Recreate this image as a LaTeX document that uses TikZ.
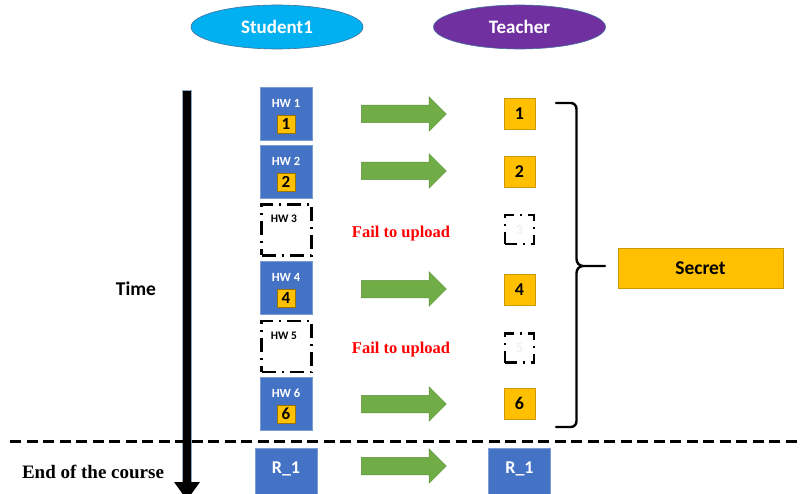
\documentclass[tikz,border=0pt]{standalone}
\usepackage{fontspec}
\setmainfont{Liberation Serif}
\newfontfamily\carlitofont{Carlito}
\usetikzlibrary{shapes.geometric,shapes.arrows,decorations.pathreplacing}
\definecolor{hwblue}{HTML}{4472C4}
\definecolor{hwgreen}{HTML}{70AD47}
\definecolor{hwyellow}{HTML}{FFC000}
\definecolor{hwcyan}{HTML}{00B0F0}
\definecolor{hwpurple}{HTML}{7030A0}
\definecolor{hwedge}{HTML}{41719C}
\definecolor{hwred}{HTML}{FF0000}
\tikzset{
  actor/.style={ellipse, draw=hwedge, line width=0.6pt, minimum width=172pt, minimum height=44pt, inner sep=0pt, text=white, font=\carlitofont\bfseries\fontsize{19}{19}\selectfont},
  hwbox/.style={rectangle, fill=hwblue, draw=hwblue!70!white, line width=0.6pt, minimum width=52pt, minimum height=53pt, inner sep=0pt},
  hwmiss/.style={rectangle, draw=black, line width=2.6pt, dash pattern=on 14pt off 6pt on 2pt off 6pt, minimum width=50pt, minimum height=51pt, inner sep=0pt},
  hwlabel/.style={text=white, font=\carlitofont\bfseries\fontsize{12.5}{13}\selectfont, inner sep=0pt},
  digit/.style={rectangle, fill=hwyellow, draw=hwyellow!60!black, line width=0.6pt, minimum width=18pt, minimum height=18pt, inner sep=0pt, font=\carlitofont\bfseries\fontsize{17}{17}\selectfont},
  tbox/.style={rectangle, fill=hwyellow, draw=hwyellow!80!black, line width=0.6pt, minimum width=31pt, minimum height=31pt, inner sep=0pt, font=\carlitofont\bfseries\fontsize{18}{18}\selectfont},
  tmiss/.style={rectangle, draw=black, line width=2.4pt, dash pattern=on 12pt off 6pt on 2pt off 6pt, minimum width=29pt, minimum height=29pt, inner sep=0pt, text=black!6, font=\carlitofont\bfseries\fontsize{14}{14}\selectfont},
  rbox/.style={rectangle, fill=hwblue, draw=hwblue!70!white, line width=0.6pt, minimum width=62pt, minimum height=62pt, inner sep=0pt},
  rlabel/.style={text=white, inner sep=0pt, font=\carlitofont\bfseries\fontsize{18}{18}\selectfont},
  garrow/.style={single arrow, fill=hwgreen, draw=hwgreen!85!black, line width=0.5pt, minimum height=85pt, minimum width=34pt, single arrow head extend=8.5pt, single arrow head indent=0pt, inner xsep=0pt, inner ysep=8.5pt},
  fail/.style={text=hwred, font=\bfseries\fontsize{16.5}{16.5}\selectfont},
  side/.style={font=\fontsize{19}{19}\selectfont\bfseries}
}
\begin{document}
\begin{tikzpicture}[x=1pt,y=-1pt]
\useasboundingbox (0,0) rectangle (800,494);
\begin{scope}
\clip (0,0) rectangle (800,494);
% actors
\node[actor, fill=hwcyan] (stu) at (277,27) {Student1};
\node[actor, fill=hwpurple] (tea) at (519.5,27) {Teacher};

% time arrow
\coordinate (ttop) at (187,90);
\coordinate (tbot) at (187,500);
\fill[black] (182.5,90) rectangle (191.5,482);
\fill[black] (174,482) -- (200,482) -- (187,500) -- cycle;
\draw[hwedge!60, line width=0.6pt] (182.5,482) -- (182.5,90) -- (191.5,90) -- (191.5,482);

% dashed separator
\coordinate (sepL) at (10,441.5);
\coordinate (sepR) at (800,441.5);
\draw[black, line width=2.6pt, dash pattern=on 11pt off 5.5pt] (sepL) -- (sepR);

% student HW boxes
\node[hwbox] (hw1) at (286,114) {};
\node[hwbox] (hw2) at (286,172) {};
\node[hwmiss] (hw3) at (286.5,230) {};
\node[hwbox] (hw4) at (286,288) {};
\node[hwmiss] (hw5) at (286.5,346.5) {};
\node[hwbox] (hw6) at (286,404) {};
\foreach \i/\y in {1/114,2/172,4/288,6/404}{
  \node[hwlabel] (lab\i) at (286,\y-11) {HW \i};
  \node[digit] (dig\i) at (286,\y+10) {\i};
}
\node[hwlabel, text=black, font=\carlitofont\bfseries\fontsize{11.5}{12}\selectfont] (lab3) at (284,219) {HW 3};
\node[hwlabel, text=black, font=\carlitofont\bfseries\fontsize{11.5}{12}\selectfont] (lab5) at (284,336) {HW 5};

% teacher boxes
\node[tbox] (t1) at (519.5,113.5) {1};
\node[tbox] (t2) at (519.5,172) {2};
\node[tmiss] (t3) at (519.5,229.5) {3};
\node[tbox] (t4) at (519.5,290) {4};
\node[tmiss] (t5) at (519.5,348) {5};
\node[tbox] (t6) at (519.5,403.5) {6};

% green arrows
\node[garrow] (a1) at (399.5,114) {};
\node[garrow] (a2) at (399.5,171) {};
\node[garrow] (a4) at (399.5,289) {};
\node[garrow] (a6) at (399.5,404) {};
\node[garrow] (a7) at (399.5,466) {};

% fail texts
\node[fail] (f3) at (401,233.5) {Fail to upload};
\node[fail] (f5) at (401,349.5) {Fail to upload};

% end row
\node[rbox] (r1) at (286,479) {};
\node[rlabel] (r1l) at (286,468.5) {R\_1};
\node[rbox] (r2) at (519.5,479) {};
\node[rlabel] (r2l) at (519.5,468.5) {R\_1};

% side labels
\node[font=\carlitofont\bfseries\fontsize{19.5}{19.5}\selectfont] (time) at (136,289) {Time};
\node[side] (end) at (93,472) {End of the course};

% brace
\coordinate (bt) at (556,103);
\coordinate (bb) at (556,427);
\coordinate (btip) at (605,266);
\draw[black, line width=2.4pt, line cap=round] (bt) -- (571,103) to[out=0,in=90] (576.5,109) -- (576.5,259) to[out=-90,in=180] (583,266) -- (btip);
\draw[black, line width=2.4pt, line cap=round] (bb) -- (571,427) to[out=0,in=-90] (576.5,421) -- (576.5,273) to[out=90,in=180] (583,266);

% secret
\node[rectangle, fill=hwyellow, draw=hwyellow!80!black, line width=0.6pt, minimum width=165pt, minimum height=40pt, inner sep=0pt, font=\carlitofont\bfseries\fontsize{19.5}{19.5}\selectfont] (sec) at (700.5,268) {Secret};
\end{scope}
\end{tikzpicture}
\end{document}
